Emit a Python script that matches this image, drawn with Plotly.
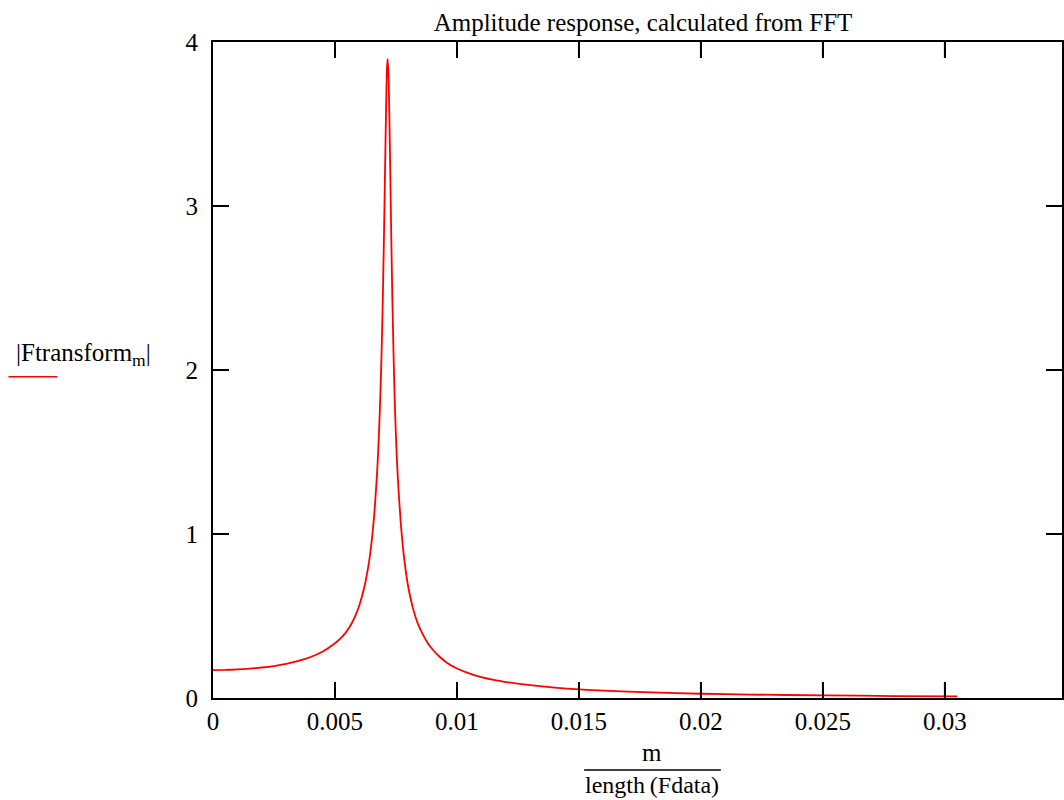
import plotly.graph_objects as go

# Data (frequency m/length(Fdata), |Ftransform_m|)
freq = [0.0, 0.0005, 0.001, 0.0015, 0.002, 0.0025, 0.003, 0.0035, 0.004,
        0.0045, 0.005, 0.0053, 0.0056, 0.0058, 0.006, 0.0062, 0.0064,
        0.0065, 0.0066, 0.0067, 0.00675, 0.0068, 0.00685, 0.0069, 0.00695,
        0.007, 0.00705, 0.0071, 0.00713, 0.00716, 0.0072, 0.00725, 0.0073,
        0.00735, 0.0074, 0.00745, 0.0075, 0.00755, 0.0076, 0.0077, 0.0078,
        0.0079, 0.008, 0.0082, 0.0084, 0.0086, 0.0088, 0.009, 0.0093,
        0.0096, 0.01, 0.0105, 0.011, 0.0115, 0.012, 0.013, 0.014, 0.015,
        0.016, 0.018, 0.02, 0.022, 0.025, 0.028, 0.0305]
amp = [0.170, 0.171, 0.174, 0.179, 0.186, 0.195, 0.208, 0.226, 0.250,
       0.284, 0.334, 0.374, 0.433, 0.490, 0.566, 0.675, 0.835,
       0.950, 1.100, 1.310, 1.440, 1.605, 1.800, 2.050, 2.360,
       2.750, 3.200, 3.640, 3.840, 3.897, 3.770, 3.360, 2.880,
       2.450, 2.100, 1.810, 1.590, 1.420, 1.280, 1.060, 0.895,
       0.775, 0.680, 0.545, 0.452, 0.388, 0.336, 0.296, 0.250,
       0.214, 0.180, 0.150, 0.127, 0.110, 0.097, 0.078, 0.063, 0.052,
       0.045, 0.034, 0.026, 0.021, 0.016, 0.012, 0.010]

x_ticks = [0, 0.005, 0.01, 0.015, 0.02, 0.025, 0.03]
x_tick_labels = ["0", "0.005", "0.01", "0.015", "0.02", "0.025", "0.03"]
y_ticks = [0, 1, 2, 3, 4]
y_tick_labels = ["0", "1", "2", "3", "4"]

title_text = "Amplitude response, calculated from FFT"
y_label = "|Ftransform<sub>m</sub>|"
x_num = "m"
x_den = "length\u2009(Fdata)"

FONT = "Liberation Serif, Times New Roman, serif"
FS = 25
TICKLEN = 16
PLOT_H = 656

fig = go.Figure()
fig.add_trace(go.Scatter(x=freq, y=amp, mode="lines",
                         line=dict(color="#ff0000", width=1.8, shape="spline",
                                   smoothing=0.5),
                         showlegend=False, hoverinfo="skip"))

axis_common = dict(showgrid=False, zeroline=False, showline=True,
                   linecolor="#000000", linewidth=2, ticks="inside",
                   ticklen=TICKLEN, tickwidth=2, tickcolor="#000000",
                   mirror="ticks",
                   tickfont=dict(family=FONT, size=FS, color="#000000"))

fig.update_layout(
    width=1064, height=800,
    margin=dict(l=213, r=0, t=42, b=102, pad=0),
    paper_bgcolor="white", plot_bgcolor="white",
    font=dict(family=FONT, size=FS, color="#000000"),
    title=dict(text=title_text, x=643 / 1064, xanchor="center",
               y=1 - 22 / 800, yanchor="middle",
               font=dict(family=FONT, size=FS, color="#000000")),
    xaxis=dict(range=[0, 0.0348], tickmode="array", tickvals=x_ticks,
               ticktext=x_tick_labels, **axis_common),
    yaxis=dict(range=[0, 4], tickmode="array", tickvals=y_ticks,
               ticktext=y_tick_labels, ticklabelstandoff=8, **axis_common),
)

# explicit inside tick marks on bottom and top x axes (at the x tick values)
for tv in x_ticks[1:]:
    fig.add_shape(type="line", xref="x", yref="paper", x0=tv, x1=tv,
                  y0=0, y1=TICKLEN / PLOT_H,
                  line=dict(color="#000000", width=2), layer="above")
    fig.add_shape(type="line", xref="x", yref="paper", x0=tv, x1=tv,
                  y0=1 - TICKLEN / PLOT_H, y1=1,
                  line=dict(color="#000000", width=2), layer="above")

# y-axis label (legend-like) with red line sample
fig.add_annotation(text=y_label, xref="paper", yref="paper",
                   x=(83 - 213) / 851, y=(698 - 354) / 656,
                   showarrow=False, xanchor="center", yanchor="middle",
                   font=dict(family=FONT, size=FS, color="#000000"))
fig.add_shape(type="line", xref="paper", yref="paper",
              x0=(8 - 213) / 851, x1=(57 - 213) / 851,
              y0=(698 - 376.7) / 656, y1=(698 - 376.7) / 656,
              line=dict(color="#ff0000", width=1.5))

# x-axis label as a fraction
fig.add_annotation(text=x_num, xref="paper", yref="paper",
                   x=(653 - 213) / 851, y=(698 - 752) / 656,
                   showarrow=False, xanchor="center", yanchor="middle",
                   font=dict(family=FONT, size=FS, color="#000000"))
fig.add_shape(type="line", xref="paper", yref="paper",
              x0=(585 - 213) / 851, x1=(722 - 213) / 851,
              y0=(698 - 770) / 656, y1=(698 - 770) / 656,
              line=dict(color="#000000", width=1.5))
fig.add_annotation(text=x_den, xref="paper", yref="paper",
                   x=(653 - 213) / 851, y=(698 - 785) / 656,
                   showarrow=False, xanchor="center", yanchor="middle",
                   font=dict(family=FONT, size=24, color="#000000"))

fig.write_html("out.html", config={"displayModeBar": False})

# remove the default body margin so the figure sits at the page origin
with open("out.html", "r", encoding="utf-8") as f:
    html = f.read()
html = html.replace("<body>", '<body style="margin:0;padding:0;overflow:hidden;">', 1)
with open("out.html", "w", encoding="utf-8") as f:
    f.write(html)
